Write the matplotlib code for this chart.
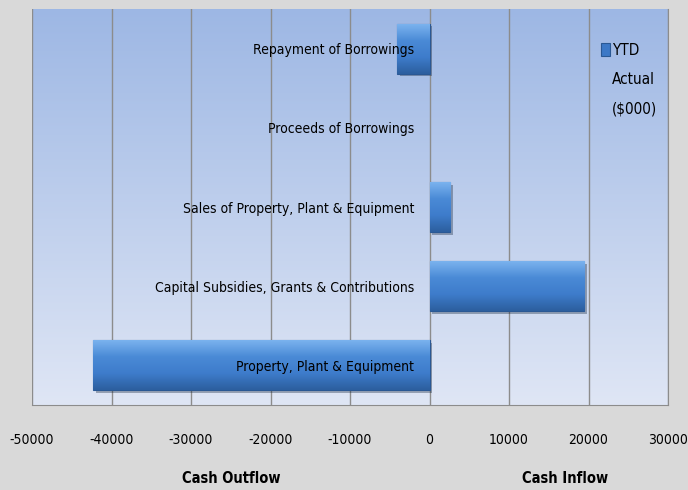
import numpy as np
import matplotlib
matplotlib.use("Agg")
import matplotlib.pyplot as plt
import matplotlib.patheffects as pe
from matplotlib.colors import LinearSegmentedColormap
from matplotlib.legend_handler import HandlerPatch
from matplotlib.patches import Rectangle

# data (top to bottom as shown in the chart)
categories = ["Repayment of Borrowings", "Proceeds of Borrowings",
              "Sales of Property, Plant & Equipment",
              "Capital Subsidies, Grants & Contributions",
              "Property, Plant & Equipment"]
ytd_actual = [-4100, 0, 2600, 19400, -42300]
xticks = [-50000, -40000, -30000, -20000, -10000, 0, 10000, 20000, 30000]
series_name = "YTD\nActual\n($000)"

plt.rcParams['font.family'] = ['DejaVu Sans']
plt.rcParams['font.stretch'] = 'condensed'

fig = plt.figure(figsize=(6.88, 4.9), dpi=100)
fig.patch.set_facecolor('#d9d9d9')
ax = fig.add_axes([32/688, 1-405/490, 636/688, 396/490])

# plot area gradient background
bg = LinearSegmentedColormap.from_list('bg', ['#dfe6f5', '#9db7e4'])
ax.imshow(np.linspace(0, 1, 256).reshape(-1, 1), cmap=bg, aspect='auto',
          extent=[0, 1, 0, 1], transform=ax.transAxes, origin='lower', zorder=0)

ypos = np.arange(len(categories))[::-1]
bars = ax.barh(ypos, ytd_actual, height=0.63, color='#3c78c6', edgecolor='#2a5894',
               linewidth=0.8, zorder=2, label=series_name,
               path_effects=[pe.SimplePatchShadow(offset=(2, -2), alpha=0.35), pe.Normal()])

# bevel-like gradient inside each bar
barcm = LinearSegmentedColormap.from_list('bar', ['#2c5f9f', '#3e7ccb', '#4a8ad6', '#7ab2ee'])
for b in bars:
    if b.get_width() == 0:
        b.set_visible(False)
        continue
    x0, x1 = sorted([b.get_x(), b.get_x() + b.get_width()])
    y0, y1 = b.get_y(), b.get_y() + b.get_height()
    im = ax.imshow(np.linspace(0, 1, 64).reshape(-1, 1), cmap=barcm, aspect='auto',
                   extent=[x0, x1, y0, y1], origin='lower', zorder=2.1)
    im.set_clip_path(b)

ax.set_xlim(-50000, 30000)
ax.set_ylim(-0.5, len(categories) - 0.5)
ax.set_xticks(xticks)
ax.set_xticklabels([str(t) for t in xticks], fontsize=10)
ax.tick_params(axis='x', length=0, pad=20)

ax.set_yticks(ypos)
ax.set_yticklabels(categories, fontsize=10.8)
ax.spines['left'].set_position(('data', 0))
ax.spines['left'].set_visible(False)
ax.tick_params(axis='y', length=0, pad=11)

ax.grid(axis='x', color='#8c8c8c', linewidth=1)
ax.set_axisbelow(True)
ax.yaxis.set_zorder(5)  # category labels sit on top of the bars
ax.spines['top'].set_visible(False)
for s in ['bottom', 'right']:
    ax.spines[s].set_color('#8c8c8c')

# side captions under the axis
ax.text(-25000, -0.185, "Cash Outflow", transform=ax.get_xaxis_transform(),
        ha='center', va='center', fontsize=10.5, fontweight='bold')
ax.text(17000, -0.185, "Cash Inflow", transform=ax.get_xaxis_transform(),
        ha='center', va='center', fontsize=10.5, fontweight='bold')


# legend marker sits next to the first line of the wrapped label
def top_square(legend, orig_handle, xdescent, ydescent, width, height, fontsize):
    return Rectangle((-xdescent, -ydescent + height + 0.07 * fontsize),
                     0.6 * fontsize, 0.85 * fontsize)


def no_update(handle, orig):
    pass


leg = ax.legend(loc='upper left', bbox_to_anchor=(587/688, 1-29/490),
                bbox_transform=fig.transFigure, frameon=False, fontsize=11,
                handlelength=0.6, handleheight=4.6, handletextpad=0.15,
                handler_map={type(bars): HandlerPatch(patch_func=top_square,
                                                      update_func=no_update)})
for t in leg.get_texts():
    t.set_linespacing(2.2)
for h in leg.legend_handles:
    h.set_facecolor('#3c78c6')
    h.set_edgecolor('#2a5894')
    h.set_linewidth(0.8)

fig.savefig("out.png", dpi=100, facecolor=fig.get_facecolor())
